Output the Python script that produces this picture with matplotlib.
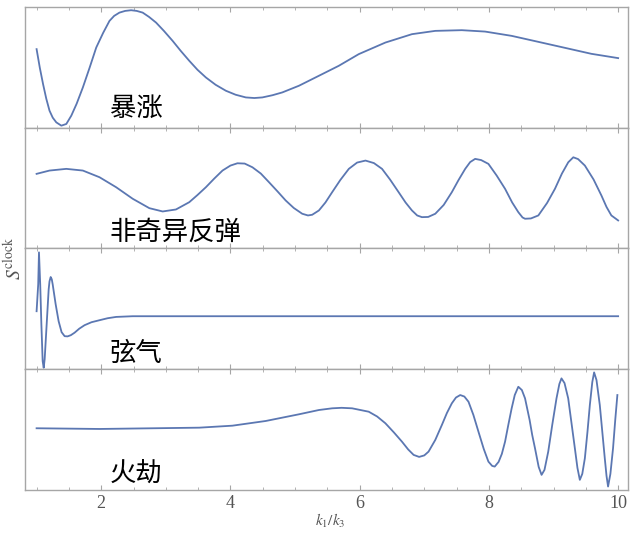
import matplotlib
matplotlib.use("Agg")
import matplotlib.pyplot as plt
from matplotlib.ticker import MultipleLocator

# ---- data (x = k1/k3, y = S^clock in arbitrary units) ----
x_inflation = [1.0, 1.05, 1.1, 1.15, 1.2, 1.25, 1.305, 1.383, 1.46, 1.537, 1.62, 1.716,
               1.82, 1.923, 2.03, 2.128, 2.2, 2.282, 2.37, 2.463, 2.55, 2.642, 2.74,
               2.849, 2.97, 3.105, 3.23, 3.363, 3.49, 3.62, 3.77, 3.929, 4.08, 4.238,
               4.37, 4.494, 4.65, 4.802, 5.06, 5.369, 5.677, 5.986, 6.398, 6.809, 7.17,
               7.58, 7.941, 8.352, 8.765, 9.176, 9.586, 10.0]
y_inflation = [78.7, 60.0, 43.7, 29.0, 17.0, 10.0, 5.3, 2.0, 3.7, 12.0, 24.0, 40.3,
               60.0, 80.3, 95.0, 107.0, 112.0, 115.3, 117.0, 117.7, 117.0, 115.3, 111.0,
               105.3, 97.0, 87.0, 77.0, 67.0, 58.0, 50.3, 43.0, 37.0, 33.0, 30.3,
               29.7, 30.3, 32.5, 35.3, 42.0, 52.0, 62.0, 73.7, 85.3, 93.7, 97.0,
               97.7, 96.3, 92.0, 86.0, 80.0, 74.0, 69.7]

x_bounce = [1.0, 1.2, 1.46, 1.716, 1.974, 2.231, 2.488, 2.745, 2.951, 3.157, 3.363, 3.49,
            3.62, 3.75, 3.877, 4.0, 4.108, 4.22, 4.34, 4.47, 4.597, 4.73, 4.855, 4.98,
            5.111, 5.2, 5.265, 5.369, 5.47, 5.574, 5.7, 5.832, 5.96, 6.09, 6.22, 6.346,
            6.47, 6.603, 6.71, 6.809, 6.89, 6.963, 7.06, 7.17, 7.3, 7.426, 7.53, 7.633,
            7.71, 7.787, 7.88, 7.992, 8.12, 8.25, 8.36, 8.455, 8.52, 8.559, 8.65, 8.765,
            8.9, 9.022, 9.13, 9.228, 9.306, 9.38, 9.485, 9.62, 9.741, 9.82, 9.895, 10.0]
y_bounce = [74.7, 78.0, 79.7, 78.0, 71.3, 61.3, 49.7, 40.3, 37.0, 39.0, 46.3, 53.5,
            61.3, 70.0, 78.0, 83.0, 85.3, 85.0, 81.3, 75.0, 66.3, 57.0, 48.0, 40.5,
            34.7, 33.0, 33.7, 38.0, 46.0, 56.3, 68.5, 79.7, 86.0, 88.0, 85.5, 79.7,
            69.0, 56.3, 46.0, 38.0, 33.0, 31.3, 31.5, 34.7, 43.5, 56.3, 68.5, 79.7,
            86.5, 89.7, 88.5, 84.7, 73.0, 59.7, 46.0, 36.3, 31.0, 29.7, 30.0, 33.0,
            45.5, 59.7, 75.0, 86.3, 91.3, 89.5, 83.0, 69.0, 53.0, 41.5, 33.0, 28.0]

x_string = [1.0, 1.025, 1.037, 1.056, 1.074, 1.094, 1.11, 1.125, 1.156, 1.187, 1.2,
            1.218, 1.235, 1.249, 1.295, 1.341, 1.387, 1.434, 1.48, 1.53, 1.588, 1.66,
            1.742, 1.85, 1.974, 2.1, 2.231, 2.488, 3.517, 10.0]
y_string = [58.0, 85.0, 117.0, 85.0, 45.0, 8.0, 1.3, 10.0, 45.0, 80.0, 88.0,
            92.3, 90.0, 85.0, 65.0, 48.0, 37.0, 33.0, 32.8, 34.0, 36.5, 40.5,
            44.0, 47.0, 49.0, 51.0, 52.3, 53.0, 53.0, 53.0]

x_ekpyrotic = [1.0, 1.974, 3.517, 4.031, 4.546, 5.06, 5.369, 5.574, 5.72, 5.883, 6.14,
               6.27, 6.398, 6.53, 6.654, 6.75, 6.835, 6.92, 7.0, 7.066, 7.17, 7.272, 7.35,
               7.426, 7.49, 7.556, 7.62, 7.684, 7.76, 7.838, 7.92, 7.992, 8.05, 8.09,
               8.15, 8.2, 8.25, 8.3, 8.352, 8.4, 8.455, 8.51, 8.559, 8.63, 8.67, 8.713,
               8.77, 8.815, 8.86, 8.918, 8.98, 9.046, 9.09, 9.123, 9.17, 9.227, 9.28,
               9.33, 9.37, 9.407, 9.445, 9.485, 9.525, 9.562, 9.6, 9.628, 9.665, 9.716,
               9.755, 9.793, 9.82, 9.844, 9.88, 9.921, 9.955, 9.988]
y_ekpyrotic = [61.7, 61.0, 62.3, 64.3, 69.0, 75.7, 80.0, 81.7, 82.2, 81.7, 78.3,
               73.5, 66.7, 57.5, 48.3, 40.5, 35.0, 33.0, 34.5, 38.3, 50.0, 65.0, 77.0,
               86.7, 92.5, 95.0, 93.5, 88.3, 75.0, 58.3, 41.0, 28.3, 24.0, 23.3,
               28.0, 36.0, 48.3, 65.0, 81.7, 95.0, 103.3, 100.0, 91.7, 70.0, 55.0, 41.7,
               23.0, 15.0, 20.0, 38.3, 65.0, 91.7, 106.0, 111.7, 107.0, 91.7, 66.0,
               41.7, 22.0, 10.0, 16.0, 31.7, 58.0, 85.0, 108.0, 117.7, 110.0, 85.0,
               58.0, 31.7, 14.0, 3.3, 16.0, 41.7, 70.0, 95.0]

labels = ["暴涨", "非奇异反弹", "弦气", "火劫"]
x_ticks = [2, 4, 6, 8, 10]

series = [(x_inflation, y_inflation), (x_bounce, y_bounce),
          (x_string, y_string), (x_ekpyrotic, y_ekpyrotic)]
label_y = [0.16, 0.13, 0.13, 0.14]

line_color = "#5b77b2"
frame_color = "#a6a6a6"

fig, axes = plt.subplots(4, 1, figsize=(6.4, 5.33), dpi=100, sharex=True)
fig.subplots_adjust(left=0.039, right=0.981, top=0.987, bottom=0.081, hspace=0)

for ax, (xs, ys), lab, ly in zip(axes, series, labels, label_y):
    ax.plot(xs, ys, color=line_color, lw=1.3, solid_joinstyle="round")
    ax.set_xlim(0.82, 10.15)
    ax.set_ylim(0, 121)
    ax.set_yticks([])
    for sp in ax.spines.values():
        sp.set_color(frame_color)
        sp.set_linewidth(1.0)
    ax.xaxis.set_major_locator(MultipleLocator(2))
    ax.xaxis.set_minor_locator(MultipleLocator(0.5))
    ax.tick_params(axis="x", which="both", direction="in", top=True, bottom=True,
                   color=frame_color, labelbottom=False)
    ax.tick_params(axis="x", which="major", length=3.5, width=0.8)
    ax.tick_params(axis="x", which="minor", length=2, width=0.6)
    ax.text(2.13, ly, lab, transform=ax.get_xaxis_transform(), va="center", ha="left",
            fontsize=19, color="black", family=["Noto Sans CJK SC", "DejaVu Sans"])

bottom = axes[-1]
bottom.set_xticks(x_ticks)
bottom.set_xticklabels([str(t) for t in x_ticks])
bottom.tick_params(axis="x", which="major", labelbottom=True, labelsize=13,
                   labelcolor="#555555", pad=4)
for lbl in bottom.get_xticklabels():
    lbl.set_family("Liberation Serif")

fig.text(0.516, 1 - 521 / 533, r"$k_1/k_3$", ha="center", va="center",
         fontsize=11, color="#555555", math_fontfamily="stix")
fig.text(0.022, 1 - 258 / 533, r"$S^{\mathrm{clock}}$", ha="center", va="center",
         rotation=90, fontsize=14, color="#555555", math_fontfamily="stix")

fig.savefig("out.png", dpi=100)
